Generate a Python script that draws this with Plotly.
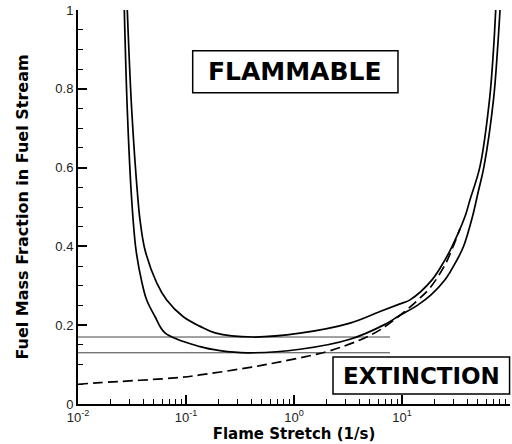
import plotly.graph_objects as go

# Lower flammability boundary (wider U-shaped curve)
lower_x = [0.02684, 0.02860, 0.03142, 0.03444, 0.03914, 0.04326, 0.05164, 0.06392,
           0.1348, 0.2064, 0.3671, 1.137, 3.300, 6.812, 9.183, 14.07, 18.56,
           25.01, 32.30, 37.11, 44.97, 50.55, 57.46, 70.34, 76.62, 80.82]
lower_y = [1.0, 0.747, 0.518, 0.391, 0.3075, 0.264, 0.222, 0.1804,
           0.1456, 0.1355, 0.130, 0.139, 0.1644, 0.2008, 0.222, 0.2516, 0.277,
           0.3151, 0.3659, 0.3997, 0.476, 0.5362, 0.6031, 0.7725, 0.8996, 1.0]

# Upper boundary (narrower U-shaped curve)
upper_x = [0.0286, 0.03142, 0.03594, 0.03751, 0.04173, 0.05355, 0.06626, 0.09381,
           0.1348, 0.1856, 0.4173, 1.137, 3.300, 6.256, 9.583, 11.86, 18.96,
           25.01, 29.04, 38.31, 42.62, 52.76, 64.60, 70.34, 73.74]
upper_y = [1.0, 0.747, 0.518, 0.4676, 0.391, 0.3075, 0.264, 0.222,
           0.197, 0.1804, 0.170, 0.1797, 0.2051, 0.2346, 0.2541, 0.2643, 0.3151,
           0.3659, 0.3997, 0.476, 0.5184, 0.6031, 0.7725, 0.8996, 1.0]

# Dashed reference curve
dash_x = [0.01, 0.01599, 0.0880, 0.1348, 0.3915, 0.5586, 2.009, 4.084, 6.256,
          10.21, 14.07, 18.17, 25.01, 29.66, 34.43]
dash_y = [0.0501, 0.0541, 0.0673, 0.0737, 0.0928, 0.1004, 0.1329, 0.1626, 0.1881,
          0.2313, 0.2643, 0.2948, 0.3532, 0.399, 0.4447]

# Horizontal levels at the two curve minima
level_values = [0.17, 0.13]
level_x_range = [0.01, 7.74]

x_tickvals = [0.01, 0.1, 1, 10, 100]
x_ticktext = ["10<sup>-2</sup>", "10<sup>-1</sup>", "10<sup>0</sup>",
              "10<sup>1</sup>", "10<sup>2</sup>"]
y_tickvals = [0, 0.2, 0.4, 0.6, 0.8, 1.0]
y_ticktext = ["0", "0.2", "0.4", "0.6", "0.8", "1"]

curve_line = dict(color="black", width=1.7, shape="spline", smoothing=1.0)

fig = go.Figure()

for lv in level_values:
    fig.add_trace(go.Scatter(x=level_x_range, y=[lv, lv], mode="lines",
                             line=dict(color="#444444", width=1),
                             showlegend=False, hoverinfo="skip"))

fig.add_trace(go.Scatter(x=dash_x, y=dash_y, mode="lines",
                         line=dict(curve_line, dash="10px,5px"),
                         showlegend=False))
fig.add_trace(go.Scatter(x=lower_x, y=lower_y, mode="lines",
                         line=curve_line, showlegend=False))
fig.add_trace(go.Scatter(x=upper_x, y=upper_y, mode="lines",
                         line=curve_line, showlegend=False))

tick_font = dict(family="Liberation Sans, Arial, sans-serif", size=13, color="#222222")
x_title_font = dict(family="DejaVu Sans, sans-serif", size=15, color="black", weight="bold")
y_title_font = dict(family="DejaVu Sans, sans-serif", size=16, color="black", weight="bold")

fig.update_layout(
    width=512, height=444,
    margin=dict(l=78, r=2, t=10, b=40, pad=0),
    paper_bgcolor="white", plot_bgcolor="white",
    xaxis=dict(
        type="log", range=[-2, 2],
        showline=True, linecolor="black", linewidth=2,
        showgrid=False, zeroline=False,
        ticks="inside", ticklen=9, tickwidth=1.5, tickcolor="black",
        tickvals=x_tickvals, ticktext=x_ticktext, tickfont=tick_font,
        minor=dict(ticks="inside", ticklen=5, tickwidth=1, tickcolor="black",
                   dtick="D1", showgrid=False),
        title=dict(text="Flame Stretch (1/s)", font=x_title_font, standoff=2),
    ),
    yaxis=dict(
        range=[0, 1],
        showline=True, linecolor="black", linewidth=2,
        showgrid=False, zeroline=False,
        ticks="inside", ticklen=9, tickwidth=1.5, tickcolor="black",
        tickvals=y_tickvals, ticktext=y_ticktext, tickfont=tick_font,
        minor=dict(ticks="inside", ticklen=5, tickwidth=1, tickcolor="black",
                   dtick=0.05, showgrid=False),
        title=dict(text="Fuel Mass Fraction in Fuel Stream", font=y_title_font, standoff=23),
    ),
    shapes=[
        dict(type="rect", xref="paper", yref="paper",
             x0=0.2655, x1=0.7407, y0=0.7901, y1=0.8967,
             line=dict(color="black", width=1.5), fillcolor="white", layer="above"),
        dict(type="rect", xref="paper", yref="paper",
             x0=0.5903, x1=0.999, y0=0.0254, y1=0.1193,
             line=dict(color="black", width=1.5), fillcolor="white", layer="above"),
    ],
    annotations=[
        dict(text="FLAMMABLE", xref="paper", yref="paper", x=0.5023, y=0.8434,
             xanchor="center", yanchor="middle", showarrow=False,
             font=dict(family="DejaVu Sans, sans-serif", size=25, color="black",
                       weight="bold")),
        dict(text="EXTINCTION", xref="paper", yref="paper", x=0.7951, y=0.0718,
             xanchor="center", yanchor="middle", showarrow=False,
             font=dict(family="DejaVu Sans, sans-serif", size=23, color="black",
                       weight="bold")),
    ],
)

fig.write_html("out.html")
